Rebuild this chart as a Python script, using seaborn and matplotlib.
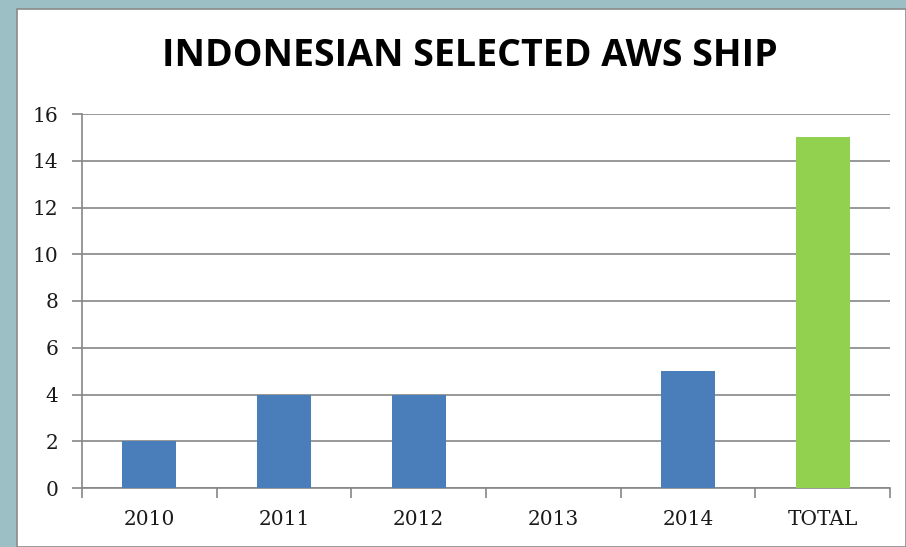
"""Indonesian selected AWS ship counts per year, with total."""
import matplotlib
matplotlib.use("Agg")
import matplotlib.pyplot as plt
import matplotlib.patches as mpatches
from matplotlib.ticker import MultipleLocator, FixedLocator
import seaborn as sns

YEARS = ["2010", "2011", "2012", "2013", "2014", "TOTAL"]
SHIPS = [2, 4, 4, 0, 5, 15]
BAR_COLORS = ["#4a7ebb", "#4a7ebb", "#4a7ebb", "#4a7ebb", "#4a7ebb", "#92d050"]
TITLE = "INDONESIAN SELECTED AWS SHIP"

sns.set_theme(style="white")
fig = plt.figure(figsize=(9.06, 5.47), dpi=100)
fig.patch.set_facecolor("#9cbfc6")
# white chart panel behind the axes
panel = mpatches.Rectangle((17/906, 0), 1 - 17/906, 1 - 9/547, transform=fig.transFigure,
                           facecolor="white", edgecolor="#8a8a8a", lw=1.2, zorder=-10)
fig.add_artist(panel)

ax = fig.add_axes([82/906, 59/547, 808/906, 374/547])
ax.set_facecolor("white")
sns.barplot(x=YEARS, y=SHIPS, hue=YEARS, palette=BAR_COLORS, width=0.4,
            legend=False, saturation=1, linewidth=0, ax=ax, zorder=3)

ax.set_ylim(0, 16)
ax.set_xlim(-0.5, len(YEARS) - 0.5)
ax.yaxis.set_major_locator(MultipleLocator(2))
ax.grid(axis="y", color="#868686", lw=1.2, zorder=0)
ax.grid(axis="x", visible=False)
for s in ["top", "right"]:
    ax.spines[s].set_visible(False)
for s in ["left", "bottom"]:
    ax.spines[s].set_color("#868686")
    ax.spines[s].set_linewidth(1.2)

ax.xaxis.set_minor_locator(FixedLocator([i - 0.5 for i in range(len(YEARS) + 1)]))
ax.tick_params(axis="x", which="major", length=0, pad=16)
ax.tick_params(axis="x", which="minor", bottom=True, direction="out", length=7, color="#868686", width=1.2)
ax.tick_params(axis="y", left=True, direction="out", length=7, color="#868686", width=1.2, pad=10)

for lab in ax.get_xticklabels() + ax.get_yticklabels():
    lab.set_fontfamily("DejaVu Serif")
    lab.set_fontsize(14.5)
    lab.set_color("#1a1a1a")
ax.set_xlabel(""); ax.set_ylabel("")

fig.text(470/906, 1 - 56/547, TITLE, ha="center", va="center", fontsize=27,
         fontweight="bold", family="Open Sans", color="black")

fig.savefig("out.png", dpi=100, facecolor=fig.get_facecolor())
